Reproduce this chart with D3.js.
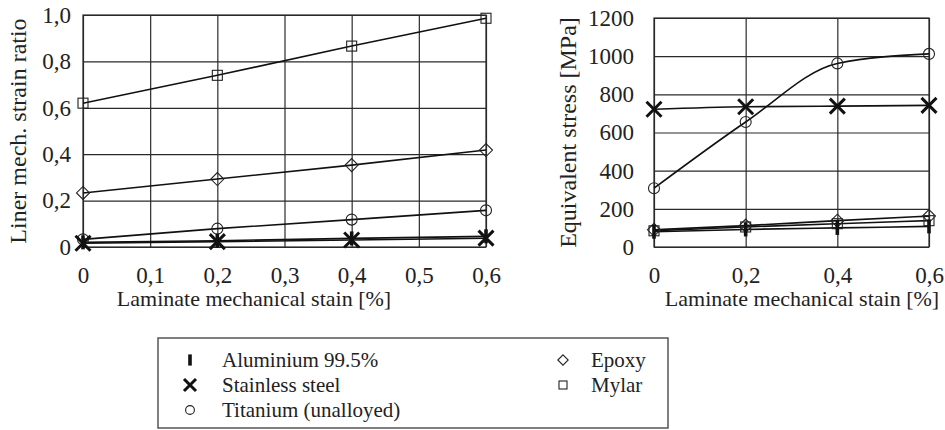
<!DOCTYPE html>
<html>
<head>
<meta charset="utf-8">
<script src="https://cdn.jsdelivr.net/npm/d3@7"></script>
<style>
  html, body { margin: 0; padding: 0; background: #fff; }
  svg { display: block; }
  text { font-family: "Liberation Serif", "Times New Roman", serif; fill: #222; }
</style>
</head>
<body>
<svg id="chart" width="945" height="430"></svg>
<script>
// ---------- data ----------
const strainValues = [0, 0.2, 0.4, 0.6];

// Left panel: liner mechanical strain ratio
const ratioAluminium = [0.020, 0.027, 0.037, 0.046];
const ratioSteel     = [0.016, 0.023, 0.030, 0.038];
const ratioTitanium  = [0.033, 0.079, 0.118, 0.158];
const ratioEpoxy     = [0.233, 0.293, 0.353, 0.418];
const ratioMylar     = [0.620, 0.740, 0.866, 0.986];

// Right panel: equivalent stress [MPa]
const stressAluminium = [80, 92, 100, 108];
const stressSteel     = [722, 735, 738, 742];
const stressTitanium  = [308, 655, 962, 1012];
const stressEpoxy     = [90, 112, 138, 162];
const stressMylar     = [85, 105, 122, 138];

// ticks
const leftXTicks  = [0, 0.1, 0.2, 0.3, 0.4, 0.5, 0.6];
const leftYTicks  = [0, 0.2, 0.4, 0.6, 0.8, 1.0];
const rightXTicks = [0, 0.2, 0.4, 0.6];
const rightYTicks = [0, 200, 400, 600, 800, 1000, 1200];

const seriesNames = ["Aluminium 99.5%", "Stainless steel", "Titanium (unalloyed)", "Epoxy", "Mylar"];
const seriesKeys  = ["alu", "steel", "ti", "epoxy", "mylar"];

const xTitle = "Laminate mechanical stain [%]";
const leftYTitle = "Liner mech. strain ratio";
const rightYTitle = "Equivalent stress [MPa]";

// ---------- helpers ----------
const svg = d3.select("#chart");
const commaFmt = d => d === 0 ? "0" : d3.format(".1f")(d).replace(".", ",");

function drawMarker(g, key, x, y, scale) {
  const s = scale || 1;
  if (key === "alu") {
    g.append("line").attr("x1", x).attr("x2", x).attr("y1", y - 7 * s).attr("y2", y + 7 * s)
      .attr("stroke", "#111").attr("stroke-width", 3.6);
  } else if (key === "steel") {
    const r = 7.5 * s;
    g.append("path").attr("d", `M${x - r},${y - r}L${x + r},${y + r}M${x - r},${y + r}L${x + r},${y - r}`)
      .attr("stroke", "#111").attr("stroke-width", 3).attr("fill", "none");
  } else if (key === "ti") {
    g.append("circle").attr("cx", x).attr("cy", y).attr("r", 5.5 * s)
      .attr("fill", "none").attr("stroke", "#222").attr("stroke-width", 1.1);
  } else if (key === "epoxy") {
    const r = 6.5 * s;
    g.append("path").attr("d", `M${x},${y - r}L${x + r},${y}L${x},${y + r}L${x - r},${y}Z`)
      .attr("fill", "none").attr("stroke", "#222").attr("stroke-width", 1.1);
  } else if (key === "mylar") {
    const r = 5 * s;
    g.append("rect").attr("x", x - r).attr("y", y - r).attr("width", 2 * r).attr("height", 2 * r)
      .attr("fill", "none").attr("stroke", "#222").attr("stroke-width", 1.1);
  }
}

function drawPanel(opt) {
  const x = d3.scaleLinear().domain([0, 0.6]).range([opt.left, opt.right]);
  const y = d3.scaleLinear().domain(opt.yDomain).range([opt.bottom, opt.top]);
  const w = opt.right - opt.left, h = opt.bottom - opt.top;
  const g = svg.append("g");

  // x axis with vertical grid
  const gx = g.append("g").attr("transform", `translate(0,${opt.bottom})`)
    .call(d3.axisBottom(x).tickValues(opt.xTicks).tickSize(-h).tickPadding(opt.xPad).tickFormat(commaFmt));
  // y axis with horizontal grid
  const gy = g.append("g").attr("transform", `translate(${opt.left},0)`)
    .call(d3.axisLeft(y).tickValues(opt.yTicks).tickSize(-w).tickPadding(opt.yPad).tickFormat(opt.yFmt));
  [gx, gy].forEach(a => {
    a.select(".domain").remove();
    a.selectAll(".tick line").attr("stroke", "#2a2a2a").attr("stroke-width", 1.2);
    a.selectAll(".tick text").style("font-size", "23px")
      .style("font-family", "'Liberation Serif','Times New Roman',serif").attr("fill", "#222");
  });
  g.append("rect").attr("x", opt.left).attr("y", opt.top).attr("width", w).attr("height", h)
    .attr("fill", "none").attr("stroke", "#2a2a2a").attr("stroke-width", 1.2);

  // series
  opt.series.forEach(s => {
    const line = d3.line().x((d, i) => x(strainValues[i])).y(d => y(d)).curve(opt.curve);
    g.append("path").datum(s.values).attr("d", line)
      .attr("fill", "none").attr("stroke", "#111").attr("stroke-width", 1.6);
  });
  opt.series.forEach(s => {
    s.values.forEach((v, i) => drawMarker(g, s.key, x(strainValues[i]), y(v), 1));
  });

  // titles
  g.append("text").attr("x", opt.xTitleX).attr("y", opt.xTitleY).attr("text-anchor", "middle")
    .style("font-size", "22px").text(xTitle);
  g.append("text").attr("transform", `translate(${opt.yTitleX},${(opt.top + opt.bottom) / 2}) rotate(-90)`)
    .attr("text-anchor", "middle").style("font-size", "24px").text(opt.yTitle);
}

drawPanel({
  left: 83, right: 486, top: 15, bottom: 247,
  yDomain: [0, 1.0], xTicks: leftXTicks, yTicks: leftYTicks,
  xPad: 20, yPad: 12, yFmt: commaFmt,
  curve: d3.curveLinear,
  series: [
    { key: "mylar", values: ratioMylar },
    { key: "epoxy", values: ratioEpoxy },
    { key: "ti", values: ratioTitanium },
    { key: "alu", values: ratioAluminium },
    { key: "steel", values: ratioSteel }
  ],
  xTitleX: 254, xTitleY: 306, yTitleX: 26, yTitle: leftYTitle
});

drawPanel({
  left: 654, right: 929, top: 18, bottom: 247,
  yDomain: [0, 1200], xTicks: rightXTicks, yTicks: rightYTicks,
  xPad: 20, yPad: 20, yFmt: d3.format("d"),
  curve: d3.curveMonotoneX,
  series: [
    { key: "mylar", values: stressMylar },
    { key: "epoxy", values: stressEpoxy },
    { key: "ti", values: stressTitanium },
    { key: "alu", values: stressAluminium },
    { key: "steel", values: stressSteel }
  ],
  xTitleX: 802, xTitleY: 306, yTitleX: 576, yTitle: rightYTitle
});

// ---------- legend ----------
const lg = svg.append("g");
lg.append("rect").attr("x", 158).attr("y", 338).attr("width", 510).attr("height", 90)
  .attr("fill", "none").attr("stroke", "#555").attr("stroke-width", 1.5);
const legendPos = [
  { sx: 190, tx: 222, cy: 360 },
  { sx: 190, tx: 222, cy: 385 },
  { sx: 190, tx: 222, cy: 410 },
  { sx: 563, tx: 591, cy: 360 },
  { sx: 563, tx: 591, cy: 385 }
];
seriesKeys.forEach((k, i) => {
  const p = legendPos[i];
  drawMarker(lg, k, p.sx, p.cy, 0.8);
  lg.append("text").attr("x", p.tx).attr("y", p.cy + 7).style("font-size", "21px").text(seriesNames[i]);
});
</script>
</body>
</html>
